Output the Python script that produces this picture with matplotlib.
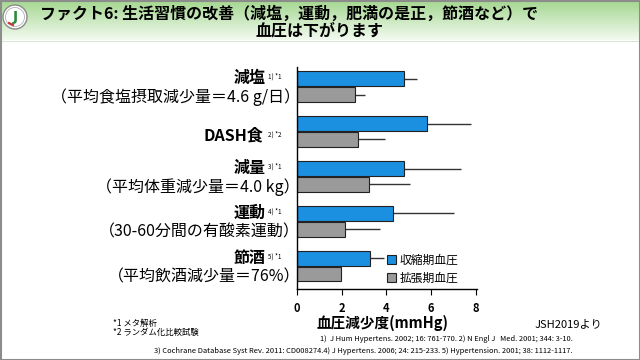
import numpy as np
import matplotlib
matplotlib.use("Agg")
import matplotlib.pyplot as plt
from matplotlib.patches import Patch, Circle, Rectangle

plt.rcParams['font.family'] = ['Noto Sans CJK JP', 'DejaVu Sans']

# ---- data ----
main_labels = ["減塩", "DASH食", "減量", "運動", "節酒"]
sub_labels = ["（平均食塩摂取減少量＝4.6 g/日）", "", "（平均体重減少量＝4.0 kg）",
              "（30-60分間の有酸素運動）", "（平均飲酒減少量＝76%）"]
refs = ["1) *1", "2) *2", "3) *1", "4) *1", "5) *1"]
sbp = [4.8, 5.8, 4.8, 4.3, 3.25]
sbp_err = [0.55, 2.0, 2.55, 2.7, 0.65]
dbp = [2.6, 2.75, 3.2, 2.15, 1.95]
dbp_err = [0.45, 1.2, 1.85, 1.55, 0.0]
series_names = ["収縮期血圧", "拡張期血圧"]
xticks = [0, 2, 4, 6, 8]

title1 = "ファクト6: 生活習慣の改善（減塩，運動，肥満の是正，節酒など）で"
title2 = "血圧は下がります"
xlabel = "血圧減少度(mmHg)"
source = "JSH2019より"
notes = ["*1 メタ解析", "*2 ランダム化比較試験"]
ref_lines = ["1)  J Hum Hypertens. 2002; 16: 761-770. 2) N Engl J   Med. 2001; 344: 3-10.",
             "3) Cochrane Database Syst Rev. 2011: CD008274.4) J Hypertens. 2006; 24: 215-233. 5) Hypertension. 2001; 38: 1112-1117."]

blue = "#1b8fe0"
gray = "#9a9a9a"

W, H = 640, 360
fig = plt.figure(figsize=(6.4, 3.6), dpi=100)

# background / frame axes in pixel coords
bg = fig.add_axes([0, 0, 1, 1])
bg.set_xlim(0, W)
bg.set_ylim(H, 0)
bg.axis('off')
grad = np.linspace(0, 1, 100)[:, None]
c_top = np.array([0.64, 0.84, 0.56])
c_bot = np.array([0.95, 0.98, 0.94])
img = c_top[None, None, :] * (1 - grad[:, :, None]) + c_bot[None, None, :] * grad[:, :, None]
bg.imshow(img, extent=[0, W, 40, 0], aspect='auto', zorder=0)
bg.plot([0, W], [40.5, 40.5], color="#d8e8d0", lw=0.8, zorder=1)
bg.add_patch(Rectangle((0.5, 0.5), W - 1, H - 1, fill=False, ec="#8c8c8c", lw=1.5, zorder=5))

# logo
bg.add_patch(Circle((15, 17), 12, fc="white", ec="#8a8a8a", lw=1.0, zorder=3))
bg.add_patch(Circle((15, 17), 9.5, fc="white", ec="#b0b0b0", lw=0.6, zorder=3))
bg.text(15.5, 17.5, "J", ha='center', va='center', fontsize=10, fontweight='bold',
        color="#2d8a3e", zorder=4, family=['DejaVu Sans'])
bg.plot([9, 13], [23, 25], color="#c83232", lw=1.5, zorder=4)

# titles
bg.text(40, 14, title1, ha='left', va='center', fontsize=11.5, fontweight='bold', color='black', zorder=4)
bg.text(320, 31, title2, ha='center', va='center', fontsize=11.5, fontweight='bold', color='black', zorder=4)

# ---- bar chart ----
ax = fig.add_axes([297 / W, 1 - 289 / H, (477 - 297) / W, (289 - 67) / H])
y = np.arange(len(main_labels))
h = 0.33
off = 0.175
ax.barh(y - off, sbp, height=h, color=blue, edgecolor="#222222", linewidth=0.8, zorder=2)
ax.barh(y + off, dbp, height=h, color=gray, edgecolor="#222222", linewidth=0.8, zorder=2)
ax.errorbar(sbp, y - off, xerr=[np.zeros(len(sbp)), sbp_err], fmt='none', ecolor="#333333",
            elinewidth=1.0, capsize=0, zorder=1)
ax.errorbar(dbp, y + off, xerr=[np.zeros(len(dbp)), dbp_err], fmt='none', ecolor="#333333",
            elinewidth=1.0, capsize=0, zorder=1)
ax.set_xlim(0, 8.05)
ax.set_ylim(4.51, -0.44)
ax.set_xticks(xticks)
ax.set_xticklabels([str(t) for t in xticks], fontsize=8, fontweight='bold')
ax.set_yticks([])
for s in ['top', 'right']:
    ax.spines[s].set_visible(False)
ax.spines['left'].set_linewidth(1.0)
ax.spines['bottom'].set_linewidth(1.0)
ax.tick_params(axis='x', length=4, width=0.8, pad=5)

# category labels (pixel coords on the background axes)
for i in range(len(main_labels)):
    cy = 87 + 45 * i
    if sub_labels[i]:
        bg.text(266, cy - 9.5, main_labels[i], ha='right', va='center', fontsize=11.5,
                fontweight='bold', zorder=4)
        bg.text(268, cy - 10, refs[i], ha='left', va='center', fontsize=4.5, zorder=4)
        bg.text(300, cy + 10, sub_labels[i], ha='right', va='center', fontsize=11.5, zorder=4)
    else:
        bg.text(263, cy + 3.5, main_labels[i], ha='right', va='center', fontsize=11.5,
                fontweight='bold', zorder=4)
        bg.text(268, cy + 3, refs[i], ha='left', va='center', fontsize=4.5, zorder=4)

# legend
handles = [Patch(fc=blue, ec="#222222", lw=0.8), Patch(fc=gray, ec="#222222", lw=0.8)]
fig.legend(handles, series_names, loc='upper left', bbox_to_anchor=(382 / W, 1 - 249 / H),
           frameon=False, fontsize=8.5, handlelength=0.8, handleheight=0.8,
           handletextpad=0.3, labelspacing=0.45, borderaxespad=0)

# bottom texts
bg.text(383, 323, xlabel, ha='center', va='center', fontsize=10.5, fontweight='bold', zorder=4)
bg.text(568, 324, source, ha='center', va='center', fontsize=8, zorder=4)
bg.text(113, 323, notes[0], ha='left', va='center', fontsize=6, zorder=4)
bg.text(113, 332, notes[1], ha='left', va='center', fontsize=6, zorder=4)
bg.text(573, 339, ref_lines[0], ha='right', va='center', fontsize=5.4, zorder=4)
bg.text(573, 351, ref_lines[1], ha='right', va='center', fontsize=5.4, zorder=4)

fig.savefig("out.png", dpi=100)
